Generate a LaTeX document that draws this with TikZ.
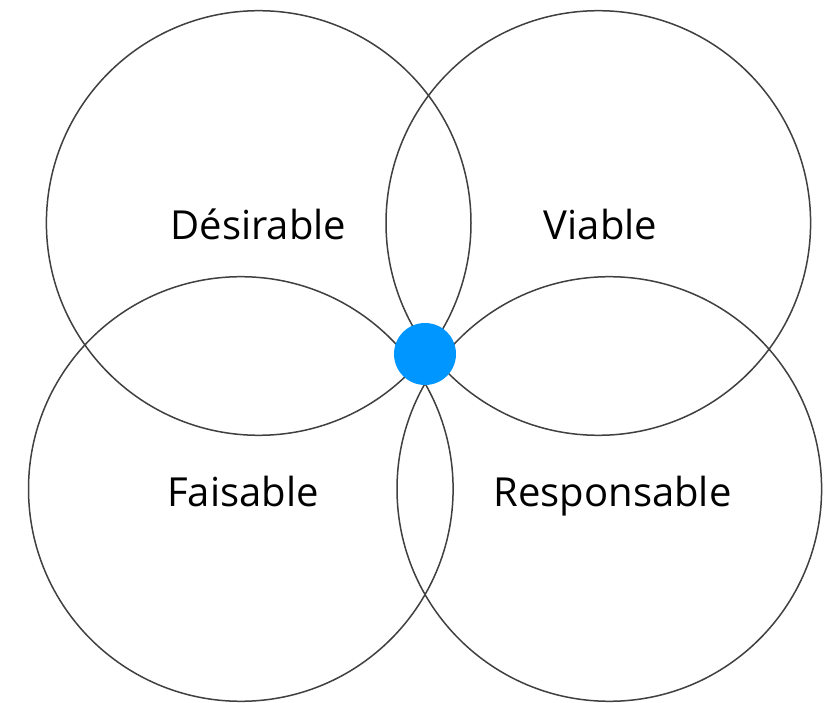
\documentclass[tikz,border=0pt]{standalone}
\usepackage{fontspec}
\setmainfont{Open Sans}
\definecolor{ringgray}{HTML}{404040}
\definecolor{dotblue}{HTML}{0096FF}
\begin{document}
\begin{tikzpicture}[x=1pt,y=-1pt,
  ring/.style={circle,draw=ringgray,line width=1.5pt,minimum size=424.6pt,inner sep=0pt},
  lbl/.style={font=\fontsize{40}{46}\selectfont,text=black,inner sep=0pt,anchor=base},
  hub/.style={circle,fill=dotblue,minimum size=62pt,inner sep=0pt}]
\useasboundingbox[fill=white] (0,0) rectangle (831,703);
\node[ring] (tl) at (258.7,223) {};
\node[ring] (tr) at (598.3,223) {};
\node[ring] (bl) at (240.8,489) {};
\node[ring] (br) at (609.3,489) {};
\node[lbl] (t1) at (258.5,240) {Désirable};
\node[lbl] (t2) at (600.5,240) {Viable};
\node[lbl] (t3) at (243,507) {Faisable};
\node[lbl] (t4) at (612.5,507) {Responsable};
\node[hub] (dot) at (425,354) {};
\end{tikzpicture}
\end{document}
